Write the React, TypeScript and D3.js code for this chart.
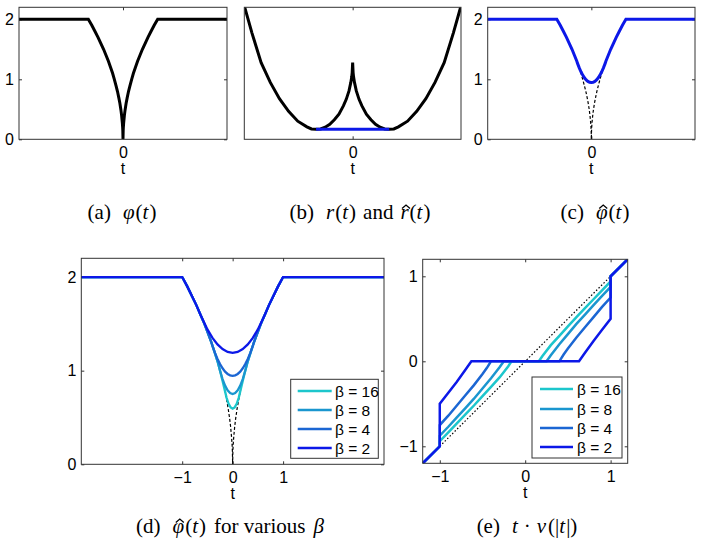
import { useEffect, useRef } from 'react';
import * as d3 from 'd3';

type Pt = [number, number];

// phi(t), right half (t >= 0); the curve is even in t
const phiT = [0, 0.005, 0.01, 0.02, 0.04, 0.06, 0.09, 0.12, 0.16, 0.2, 0.25, 0.3, 0.36, 0.42, 0.49, 0.56, 0.64, 0.72, 0.81, 0.9, 1, 3];
const phiV = [0, 0.14, 0.2, 0.28, 0.4, 0.49, 0.6, 0.69, 0.8, 0.89, 1, 1.1, 1.2, 1.3, 1.4, 1.5, 1.6, 1.7, 1.8, 1.9, 2, 2];

// r(t) right half, and the flat r-hat
const rT = [0, 0.005, 0.01, 0.02, 0.04, 0.07, 0.1, 0.15, 0.2, 0.25, 0.3, 0.35, 0.4, 0.45, 0.5, 0.6, 0.7, 0.8, 0.9, 1, 1.1, 1.2];
const rV = [0, -0.14, -0.2, -0.28, -0.4, -0.52, -0.61, -0.73, -0.81, -0.875, -0.915, -0.94, -0.945, -0.94, -0.91, -0.83, -0.69, -0.51, -0.28, 0, 0.42, 0.88];
const rHatT = [-0.4, 0.4];
const rHatV = [-0.945, -0.945];

// phi-hat inner part (right half) for each beta; outside it follows phi
const betas = [16, 8, 4, 2];
const betaColors = ['#1cc6cc', '#1a96cf', '#1b66d3', '#0c18e8'];
const hatT = [
  [0, 0.04, 0.08, 0.12, 0.16],
  [0, 0.05, 0.1, 0.15, 0.2, 0.25],
  [0, 0.05, 0.1, 0.15, 0.2, 0.25, 0.3, 0.35, 0.4],
  [0, 0.1, 0.2, 0.3, 0.4, 0.5, 0.64],
];
const hatV = [
  [0.595, 0.608, 0.646, 0.71, 0.8],
  [0.75, 0.76, 0.79, 0.84, 0.91, 1.0],
  [0.945, 0.95, 0.965, 0.99, 1.025, 1.07, 1.125, 1.19, 1.265],
  [1.19, 1.2, 1.23, 1.28, 1.35, 1.44, 1.6],
];

// t*nu(|t|) right half between threshold and 1 (odd in t)
const nuT = [
  [0.16, 0.2, 0.3, 0.4, 0.5, 0.6, 0.7, 0.8, 0.9, 1],
  [0.25, 0.3, 0.4, 0.5, 0.6, 0.7, 0.8, 0.9, 1],
  [0.4, 0.45, 0.5, 0.6, 0.7, 0.8, 0.9, 1],
  [0.63, 0.7, 0.8, 0.9, 1],
];
const nuV = [
  [0, 0.06, 0.19, 0.3, 0.41, 0.52, 0.625, 0.73, 0.835, 0.94],
  [0, 0.07, 0.2, 0.32, 0.44, 0.55, 0.66, 0.77, 0.875],
  [0, 0.08, 0.15, 0.28, 0.4, 0.52, 0.64, 0.75],
  [0, 0.1, 0.24, 0.37, 0.5],
];
const outerT = [1, 1.2];
const outerV = [1, 1.2];
const diagT = [-1, 1];
const diagV = [-1, 1];

const fontSans = '"Liberation Sans", Arial, sans-serif';
const fontSerif = '"Liberation Serif", "Times New Roman", serif';

const even = (T: number[], V: number[]): Pt[] => {
  const right: Pt[] = T.map((t, i) => [t, V[i]]);
  const left: Pt[] = right.filter((d) => d[0] > 0).map((d) => [-d[0], d[1]] as Pt).reverse();
  return left.concat(right);
};

const odd = (T: number[], V: number[]): Pt[] => {
  const right: Pt[] = T.map((t, i) => [t, V[i]]);
  const left: Pt[] = right.map((d) => [-d[0], -d[1]] as Pt).reverse();
  return left.concat(right);
};

export default function App() {
  const ref = useRef<SVGSVGElement>(null);

  useEffect(() => {
    const svg = d3.select(ref.current);
    svg.selectAll('*').remove();

    let clipId = 0;

    function panel(box: number[], xDom: number[], yDom: number[], xTicks: number[], yTicks: number[]) {
      const [x0, x1, y0, y1] = box;
      const x = d3.scaleLinear().domain(xDom).range([x0, x1]);
      const y = d3.scaleLinear().domain(yDom).range([y1, y0]);
      const g = svg.append('g');
      const fmt = (d: any) => (d < 0 ? '\u2212' + Math.abs(d) : String(d));

      const id = 'clip' + clipId++;
      g.append('clipPath').attr('id', id).append('rect')
        .attr('x', x0).attr('y', y0).attr('width', x1 - x0).attr('height', y1 - y0);

      const axes = [
        { a: d3.axisBottom(x).tickValues(xTicks).tickFormat(fmt), t: `translate(0,${y1})` },
        { a: d3.axisTop(x).tickValues(xTicks).tickFormat(() => ''), t: `translate(0,${y0})` },
        { a: d3.axisLeft(y).tickValues(yTicks).tickFormat(fmt), t: `translate(${x0},0)` },
        { a: d3.axisRight(y).tickValues(yTicks).tickFormat(() => ''), t: `translate(${x1},0)` },
      ];
      axes.forEach((ax, i) => {
        const ag = g.append('g').attr('transform', ax.t)
          .call(ax.a.tickSize(-3).tickSizeOuter(0).tickPadding(i === 0 ? 7 : 5));
        ag.select('.domain').remove();
        ag.selectAll('line').attr('stroke', '#333');
        ag.selectAll('text').attr('font-family', fontSans).attr('font-size', 16).attr('fill', '#000');
      });

      g.append('text').attr('x', (x0 + x1) / 2).attr('y', y1 + 35)
        .attr('text-anchor', 'middle').attr('font-family', fontSans).attr('font-size', 16)
        .text('t');

      const plot = g.append('g').attr('clip-path', `url(#${id})`);
      const line = d3.line<Pt>().x((d) => x(d[0])).y((d) => y(d[1]));

      const frame = () =>
        g.append('rect').attr('x', x0).attr('y', y0).attr('width', x1 - x0).attr('height', y1 - y0)
          .attr('fill', 'none').attr('stroke', '#333').attr('stroke-width', 1);

      return { x, y, plot, line, frame, g };
    }

    const phiPts = even(phiT, phiV);
    const hatPts = betas.map((_, k) => {
      const last = hatT[k][hatT[k].length - 1];
      const T = hatT[k].concat(phiT.filter((t) => t > last));
      const V = hatV[k].concat(phiV.filter((_, i) => phiT[i] > last));
      return even(T, V);
    });
    const dashed = (lim: number) => phiPts.filter((d) => Math.abs(d[0]) <= lim);

    // (a)
    {
      const p = panel([19, 227, 7.3, 139.3], [-3, 3], [0, 2.2], [0], [0, 1, 2]);
      p.plot.append('path').attr('d', p.line(phiPts)).attr('fill', 'none')
        .attr('stroke', '#000').attr('stroke-width', 3);
      p.frame();
    }

    // (b)
    {
      const p = panel([244.3, 461, 7.3, 139.3], [-1.184, 1.184], [-1.087, 0.786], [0], []);
      p.plot.append('path').attr('d', p.line(even(rT, rV))).attr('fill', 'none')
        .attr('stroke', '#000').attr('stroke-width', 3);
      p.plot.append('path').attr('d', p.line(rHatT.map((t, i) => [t, rHatV[i]] as Pt)))
        .attr('fill', 'none').attr('stroke', '#0c18e8').attr('stroke-width', 3);
      p.frame();
    }

    // (c)
    {
      const p = panel([487.7, 695, 7.3, 139.3], [-3, 3], [0, 2.2], [0], [0, 1, 2]);
      p.plot.append('path').attr('d', p.line(dashed(0.4))).attr('fill', 'none')
        .attr('stroke', '#000').attr('stroke-width', 1.2).attr('stroke-dasharray', '3,2');
      p.plot.append('path').attr('d', p.line(hatPts[2])).attr('fill', 'none')
        .attr('stroke', '#0c18e8').attr('stroke-width', 3);
      p.frame();
    }

    function legend(g: any, bx: number[], rows: number[], lineX: number[], textX: number) {
      g.append('rect').attr('x', bx[0]).attr('y', bx[2]).attr('width', bx[1] - bx[0])
        .attr('height', bx[3] - bx[2]).attr('fill', '#fff').attr('stroke', '#333');
      betas.forEach((b, k) => {
        g.append('line').attr('x1', lineX[0]).attr('x2', lineX[1]).attr('y1', rows[k]).attr('y2', rows[k])
          .attr('stroke', betaColors[k]).attr('stroke-width', 2.5);
        g.append('text').attr('x', textX).attr('y', rows[k]).attr('dy', '0.36em')
          .attr('font-family', fontSans).attr('font-size', 15.5).text(`\u03b2 = ${b}`);
      });
    }

    // (d)
    {
      const p = panel([81.3, 384, 258.3, 464.3], [-3, 3], [0, 2.2], [-1, 0, 1], [0, 1, 2]);
      p.plot.append('path').attr('d', p.line(dashed(0.16))).attr('fill', 'none')
        .attr('stroke', '#000').attr('stroke-width', 1.2).attr('stroke-dasharray', '3,2');
      hatPts.forEach((pts, k) => {
        p.plot.append('path').attr('d', p.line(pts)).attr('fill', 'none')
          .attr('stroke', betaColors[k]).attr('stroke-width', 2.3);
      });
      p.frame();
      legend(p.g, [290.7, 378.3, 379.3, 458.3], [391, 410, 429, 448], [297.7, 331.7], 335);
    }

    // (e)
    {
      const p = panel([422.7, 627.7, 259.3, 463.3], [-1.2, 1.2], [-1.2, 1.2], [-1, 0, 1], [-1, 0, 1]);
      p.plot.append('path').attr('d', p.line(diagT.map((t, i) => [t, diagV[i]] as Pt))).attr('fill', 'none')
        .attr('stroke', '#000').attr('stroke-width', 1.2).attr('stroke-dasharray', '1.5,2');
      betas.forEach((_, k) => {
        const T = nuT[k].concat(outerT);
        const V = nuV[k].concat(outerV);
        p.plot.append('path').attr('d', p.line(odd(T, V))).attr('fill', 'none')
          .attr('stroke', betaColors[k]).attr('stroke-width', 2.5);
      });
      p.frame();
      legend(p.g, [532, 622, 377, 458], [389, 409, 428, 447], [540, 573], 577);
    }

    // captions: [text, italic, dx, hat]
    type Part = [string, boolean, number?, boolean?];
    const caption = (cx: number, cy: number, parts: Part[]) => {
      const t = svg.append('text').attr('x', cx).attr('y', cy).attr('text-anchor', 'middle')
        .attr('font-family', fontSerif).attr('font-size', 21).attr('fill', '#000');
      const hats: SVGTSpanElement[] = [];
      parts.forEach(([s, it, dx, hat]) => {
        const ts = t.append('tspan').attr('font-style', it ? 'italic' : 'normal').text(s);
        if (dx) ts.attr('dx', dx);
        if (hat) hats.push(ts.node() as SVGTSpanElement);
      });
      // circumflex accents drawn as small strokes over the letter
      hats.forEach((n) => {
        const p0 = n.getStartPositionOfChar(0);
        const w = n.getComputedTextLength();
        const hx = p0.x + w / 2 + 1.5;
        const hy = p0.y - 13;
        svg.append('path')
          .attr('d', `M${hx - 4},${hy + 2.5}L${hx},${hy - 1}L${hx + 4},${hy + 2.5}`)
          .attr('fill', 'none').attr('stroke', '#000').attr('stroke-width', 1.3);
      });
    };
    caption(122, 219, [['(a)', false], ['\u03c6', true, 12], ['(', false, 1], ['t', true], [')', false, 1]]);
    caption(360, 219, [['(b)', false], ['r', true, 12], ['(', false, 1], ['t', true], [')', false, 1], ['and', false, 7], ['r', true, 7, true], ['(', false, 1], ['t', true], [')', false, 1]]);
    caption(595, 219, [['(c)', false], ['\u03c6', true, 12, true], ['(', false, 1], ['t', true], [')', false, 1]]);
    caption(230, 533, [['(d)', false], ['\u03c6', true, 12, true], ['(', false, 1], ['t', true], [')', false, 1], ['for various', false, 8], ['\u03b2', true, 8]]);
    caption(527, 533, [['(e)', false], ['t', true, 12], ['\u00b7', false, 6], ['\u03bd', true, 6], ['(|', false, 2], ['t', true], ['|)', false, 1]]);
  }, []);

  return (
    <svg
      ref={ref}
      width={704}
      height={549}
      viewBox="0 0 704 549"
      style={{ position: 'absolute', left: 0, top: 0, background: '#fff' }}
    ></svg>
  );
}
